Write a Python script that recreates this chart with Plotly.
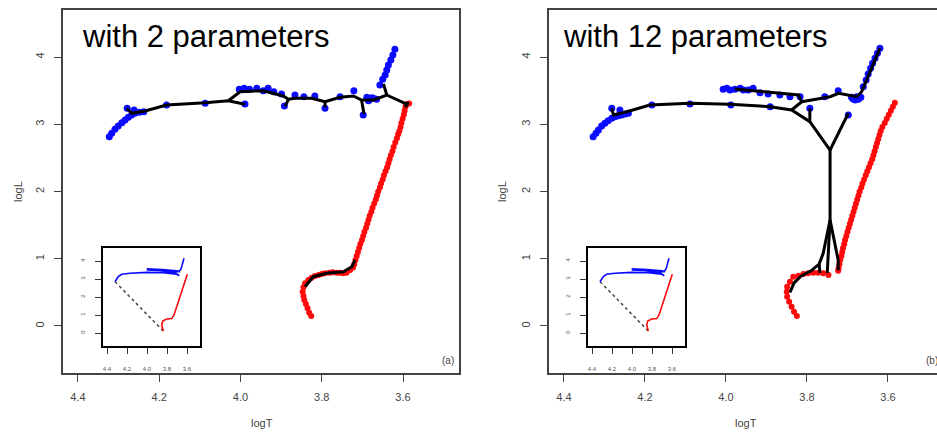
import plotly.graph_objects as go

# ---------------- data ----------------
x_tick_vals = [4.4, 4.2, 4.0, 3.8, 3.6]
x_tick_text = ["4.4", "4.2", "4.0", "3.8", "3.6"]
y_tick_vals = [0, 1, 2, 3, 4]
y_tick_text = ["0", "1", "2", "3", "4"]
panel_titles = ["with 2 parameters", "with 12 parameters"]
panel_tags = ["(a)", "(b)"]

# panel (a) blue points
a_blue_T = [4.323, 4.317, 4.309, 4.301, 4.292, 4.284, 4.276, 4.268, 4.260, 4.249, 4.238,
            4.279, 4.262, 4.182, 4.087, 3.989,
            4.003, 3.991, 3.978, 3.960, 3.944, 3.932, 3.918, 3.899, 3.892, 3.866, 3.844,
            3.817, 3.792, 3.755, 3.721, 3.698,
            3.689, 3.681, 3.673, 3.665, 3.685, 3.677,
            3.657, 3.650, 3.644, 3.640, 3.636, 3.630, 3.625, 3.620]
a_blue_L = [2.815, 2.865, 2.924, 2.974, 3.023, 3.063, 3.103, 3.137, 3.162, 3.177, 3.187,
            3.237, 3.212, 3.286, 3.311, 3.301,
            3.519, 3.534, 3.519, 3.534, 3.499, 3.534, 3.484, 3.450, 3.271, 3.435, 3.410,
            3.420, 3.237, 3.410, 3.499, 3.137,
            3.400, 3.370, 3.385, 3.370, 3.350, 3.395,
            3.584, 3.668, 3.732, 3.807, 3.881, 3.955, 4.030, 4.114]

# panel (a) red points
a_red_T = [3.585, 3.590, 3.594, 3.596, 3.598, 3.601, 3.604, 3.606, 3.609, 3.612, 3.615,
           3.619, 3.623, 3.626, 3.630, 3.633, 3.636, 3.639, 3.643, 3.647, 3.650, 3.654,
           3.657, 3.661, 3.664, 3.667, 3.671, 3.675, 3.678, 3.682, 3.685, 3.688, 3.691,
           3.695, 3.698, 3.701, 3.705, 3.708, 3.711, 3.714, 3.717, 3.720, 3.723,
           3.730, 3.739, 3.747, 3.755, 3.763, 3.773, 3.781, 3.792, 3.800, 3.808, 3.817,
           3.825, 3.833, 3.841, 3.845, 3.847, 3.845, 3.843, 3.839, 3.835, 3.831, 3.826]
a_red_L = [3.31, 3.30, 3.26, 3.20, 3.14, 3.08, 3.02, 2.96, 2.90, 2.85, 2.79,
           2.73, 2.66, 2.60, 2.54, 2.48, 2.42, 2.36, 2.30, 2.24, 2.18, 2.12,
           2.06, 2.00, 1.94, 1.88, 1.82, 1.76, 1.70, 1.64, 1.58, 1.52, 1.46,
           1.40, 1.34, 1.28, 1.22, 1.16, 1.10, 1.04, 0.98, 0.92, 0.87,
           0.833, 0.793, 0.784, 0.793, 0.793, 0.799, 0.793, 0.784, 0.773, 0.758, 0.743,
           0.718, 0.684, 0.635, 0.575, 0.510, 0.446, 0.387, 0.327, 0.263, 0.198, 0.149]

# panel (a) principal tree (None separates branches)
a_tree_T = [4.280, 4.268, 4.235, 4.182, 4.087, 4.030, 3.989, None,
            4.030, 4.001, 3.944, 3.895, 3.882, 3.866, 3.825, 3.792, 3.755, 3.722, 3.702,
            3.673, 3.640, 3.615, 3.595, 3.591, None,
            3.882, 3.890, None,
            3.792, 3.792, None,
            3.702, 3.696, None,
            3.640, 3.648, None,
            3.595, 3.585, None,
            3.841, 3.821, 3.788, 3.747, 3.726, 3.718]
a_tree_L = [3.237, 3.163, 3.197, 3.286, 3.320, 3.350, 3.297, None,
            3.350, 3.484, 3.499, 3.420, 3.371, 3.386, 3.386, 3.335, 3.401, 3.420, 3.361,
            3.361, 3.435, 3.371, 3.311, 3.252, None,
            3.371, 3.271, None,
            3.335, 3.250, None,
            3.361, 3.152, None,
            3.435, 3.599, None,
            3.311, 3.311, None,
            0.584, 0.733, 0.784, 0.807, 0.882, 0.981]

# panel (b) blue points
b_blue_T = [4.328, 4.321, 4.315, 4.307, 4.299, 4.291, 4.282, 4.274, 4.266, 4.258, 4.249, 4.241,
            4.282, 4.262, 4.183, 4.089, 3.988, 3.891,
            4.007, 3.998, 3.990, 3.978, 3.965, 3.957, 3.945, 3.933, 3.916, 3.896, 3.867,
            3.842, 3.817,
            3.756, 3.723, 3.690, 3.681, 3.673, 3.667, 3.677, 3.686,
            3.793, 3.698,
            3.661, 3.654, 3.649, 3.643, 3.638, 3.632, 3.626, 3.620]
b_blue_L = [2.815, 2.865, 2.915, 2.974, 3.014, 3.053, 3.088, 3.112, 3.127, 3.138, 3.152, 3.163,
            3.237, 3.212, 3.286, 3.301, 3.286, 3.261,
            3.520, 3.535, 3.509, 3.520, 3.535, 3.509, 3.509, 3.535, 3.469, 3.450, 3.435,
            3.410, 3.410,
            3.410, 3.499, 3.401, 3.361, 3.371, 3.401, 3.410, 3.376,
            3.237, 3.138,
            3.558, 3.658, 3.747, 3.832, 3.906, 3.981, 4.055, 4.129]

# panel (b) red points
b_red_T = [3.583, 3.588, 3.593, 3.598, 3.603, 3.608, 3.614, 3.618, 3.621, 3.624, 3.627,
           3.630, 3.633, 3.636, 3.639, 3.643, 3.647, 3.651, 3.655, 3.659, 3.663, 3.666,
           3.670, 3.673, 3.676, 3.679, 3.682, 3.685, 3.688, 3.691, 3.694, 3.697, 3.700,
           3.703, 3.706, 3.708, 3.711, 3.713, 3.715, 3.718, 3.720, 3.722, 3.723,
           3.747, 3.760, 3.772, 3.784, 3.797, 3.809, 3.821, 3.834, 3.842, 3.849, 3.850,
           3.849, 3.844, 3.838, 3.832, 3.825]
b_red_L = [3.32, 3.26, 3.20, 3.14, 3.08, 3.02, 2.96, 2.90, 2.84, 2.78, 2.72,
           2.66, 2.60, 2.54, 2.48, 2.42, 2.36, 2.30, 2.24, 2.18, 2.12, 2.06,
           2.00, 1.94, 1.88, 1.82, 1.76, 1.70, 1.64, 1.58, 1.52, 1.46, 1.40,
           1.34, 1.28, 1.22, 1.16, 1.10, 1.04, 0.98, 0.92, 0.86, 0.82,
           0.758, 0.784, 0.793, 0.793, 0.784, 0.773, 0.748, 0.733, 0.659, 0.584, 0.510,
           0.436, 0.361, 0.287, 0.213, 0.149]

# panel (b) principal tree
b_tree_T = [4.282, 4.278, 4.245, 4.188, 4.089, 3.990, 3.891, 3.838, 3.793, 3.743, None,
            3.838, 3.813, 3.821, 3.916, 3.978, None,
            3.813, 3.743, 3.722, 3.677, 3.665, 3.653, 3.632, 3.620, None,
            3.793, 3.793, None,
            3.743, 3.698, None,
            3.743, 3.743, 3.760, 3.770, 3.790, 3.815, 3.832, 3.842, None,
            3.743, 3.750, None,
            3.743, 3.723, 3.723, None,
            3.770, 3.768]
b_tree_L = [3.237, 3.138, 3.187, 3.286, 3.312, 3.297, 3.261, 3.212, 3.038, 2.617, None,
            3.212, 3.335, 3.435, 3.494, 3.524, None,
            3.335, 3.410, 3.460, 3.410, 3.484, 3.658, 3.955, 4.129, None,
            3.038, 3.237, None,
            2.617, 3.163, None,
            2.617, 1.576, 1.080, 0.920, 0.820, 0.740, 0.640, 0.500, None,
            1.576, 0.790, None,
            1.576, 0.980, 0.830, None,
            0.920, 0.790]

# inset (full tracks)
inset_blue_T = [4.32, 4.287, 4.253, 4.17, 4.003, 3.837, 3.703, 3.677, 3.72, 3.85, 4.003,
                3.85, 3.70, 3.67, 3.70, 3.85, 4.003, 3.85, 3.68, 3.66, 3.645, 3.63]
inset_blue_L = [2.85, 3.13, 3.26, 3.32, 3.37, 3.35, 3.26, 3.18, 3.34, 3.44, 3.56,
                3.53, 3.46, 3.40, 3.41, 3.45, 3.50, 3.47, 3.42, 3.55, 3.85, 4.15]
inset_red_T = [3.837, 3.853, 3.843, 3.803, 3.753, 3.73, 3.68, 3.64, 3.597]
inset_red_L = [0.11, 0.44, 0.67, 0.78, 0.80, 1.00, 1.85, 2.55, 3.26]
inset_dash_T = [4.32, 3.837]
inset_dash_L = [2.85, 0.11]

# ---------------- layout helpers ----------------
W, H = 937, 433


def xd(a, b):
    return [a / W, min(b / W, 1.0)]


def yd(top, bottom):
    return [(H - bottom) / H, (H - top) / H]


fig = go.Figure()

BLUE = "#0a0aff"
RED = "#ff0a0a"


def add_panel(n, bT, bL, rT, rL, tT, tL):
    xa = "x" if n == 1 else "x%d" % n
    ya = "y" if n == 1 else "y%d" % n
    fig.add_trace(go.Scatter(x=bT, y=bL, mode="markers", xaxis=xa, yaxis=ya,
                             marker=dict(color=BLUE, size=7, line=dict(width=0)),
                             showlegend=False, hoverinfo="skip"))
    fig.add_trace(go.Scatter(x=rT, y=rL, mode="markers", xaxis=xa, yaxis=ya,
                             marker=dict(color=RED, size=6, line=dict(width=0)),
                             showlegend=False, hoverinfo="skip"))
    fig.add_trace(go.Scatter(x=tT, y=tL, mode="lines", xaxis=xa, yaxis=ya,
                             line=dict(color="black", width=3), connectgaps=False,
                             showlegend=False, hoverinfo="skip"))


def add_inset(n):
    xa = "x%d" % n
    ya = "y%d" % n
    fig.add_trace(go.Scatter(x=inset_dash_T, y=inset_dash_L, mode="lines", xaxis=xa, yaxis=ya,
                             line=dict(color="#444444", width=1.5, dash="dot"),
                             showlegend=False, hoverinfo="skip"))
    fig.add_trace(go.Scatter(x=inset_blue_T, y=inset_blue_L, mode="lines", xaxis=xa, yaxis=ya,
                             line=dict(color=BLUE, width=1.6),
                             showlegend=False, hoverinfo="skip"))
    fig.add_trace(go.Scatter(x=inset_red_T, y=inset_red_L, mode="lines", xaxis=xa, yaxis=ya,
                             line=dict(color=RED, width=1.6),
                             showlegend=False, hoverinfo="skip"))


add_panel(1, a_blue_T, a_blue_L, a_red_T, a_red_L, a_tree_T, a_tree_L)
add_panel(2, b_blue_T, b_blue_L, b_red_T, b_red_L, b_tree_T, b_tree_L)
add_inset(3)
add_inset(4)

FONT = "Liberation Sans, Arial, sans-serif"
TICKC = "#444444"

main_x = dict(tickvals=x_tick_vals, ticktext=x_tick_text, ticks="outside", ticklen=7,
              tickwidth=1, tickcolor="#444", showgrid=False, zeroline=False,
              showline=True, mirror=True, linecolor="#444", linewidth=1.5,
              tickfont=dict(family=FONT, size=11, color=TICKC), ticklabelstandoff=6)
main_y = dict(tickvals=y_tick_vals, ticktext=y_tick_text, ticks="outside", ticklen=7,
              tickwidth=1, tickcolor="#444", showgrid=False, zeroline=False,
              showline=True, linecolor="#444", linewidth=1.5, tickangle=-90,
              range=[-0.699, 4.699],
              tickfont=dict(family=FONT, size=11, color=TICKC), ticklabelstandoff=6)
ins_x = dict(tickvals=x_tick_vals, ticktext=x_tick_text, ticks="outside", ticklen=6,
             tickwidth=1, tickcolor="#333", showgrid=False, zeroline=False,
             showline=True, mirror=True, linecolor="black", linewidth=2,
             range=[4.437, 3.47],
             tickfont=dict(family=FONT, size=6, color="#555"), ticklabelstandoff=10)
ins_y = dict(tickvals=y_tick_vals, ticktext=y_tick_text, ticks="outside", ticklen=6,
             tickwidth=1, tickcolor="#333", showgrid=False, zeroline=False,
             showline=True, mirror=True, linecolor="black", linewidth=2, tickangle=-90,
             range=[-0.722, 4.739],
             tickfont=dict(family=FONT, size=6, color="#555"), ticklabelstandoff=8)

fig.update_layout(
    width=W, height=H,
    margin=dict(l=0, r=0, t=0, b=0),
    paper_bgcolor="white", plot_bgcolor="white",
    xaxis=dict(main_x, domain=xd(63, 459), range=[4.4369, 3.4622], anchor="y"),
    yaxis=dict(main_y, domain=yd(10, 373), mirror=True, anchor="x"),
    xaxis2=dict(main_x, domain=xd(549, 937), range=[4.437, 3.479], anchor="y2"),
    yaxis2=dict(main_y, domain=yd(10, 373), mirror=False, anchor="x2"),
    xaxis3=dict(ins_x, domain=xd(103.3, 200), anchor="y3"),
    yaxis3=dict(ins_y, domain=yd(247.7, 346), anchor="x3"),
    xaxis4=dict(ins_x, domain=xd(588.3, 685), anchor="y4"),
    yaxis4=dict(ins_y, domain=yd(247.7, 346), anchor="x4"),
    showlegend=False,
)

anns = []
for title, x0 in zip(panel_titles, [80, 561]):
    anns.append(dict(text=title, x=x0 / W, y=(H - 36) / H, xref="paper", yref="paper",
                     xanchor="left", yanchor="middle", showarrow=False,
                     font=dict(family=FONT, size=31, color="black")))
for tag, x0 in zip(panel_tags, [440, 924]):
    anns.append(dict(text=tag, x=x0 / W, y=(H - 360) / H, xref="paper", yref="paper",
                     xanchor="left", yanchor="middle", showarrow=False,
                     font=dict(family=FONT, size=10, color="#444")))
for xl, xt in [(18, 262), (502, 746)]:
    anns.append(dict(text="logL", x=xl / W, y=(H - 192) / H, xref="paper", yref="paper",
                     xanchor="center", yanchor="middle", showarrow=False, textangle=-90,
                     font=dict(family=FONT, size=11, color="#444")))
    anns.append(dict(text="logT", x=xt / W, y=(H - 423) / H, xref="paper", yref="paper",
                     xanchor="center", yanchor="middle", showarrow=False,
                     font=dict(family=FONT, size=11, color="#444")))
fig.update_layout(annotations=anns)

fig.write_html("out.html",
               config={"displayModeBar": False},
               post_script="document.body.style.margin='0px';document.body.style.overflow='hidden';")
